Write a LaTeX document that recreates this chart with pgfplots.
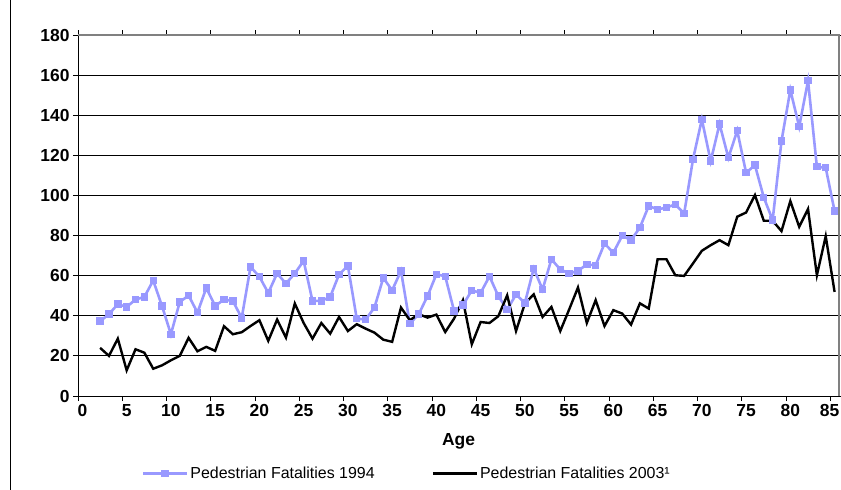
\documentclass[border=0pt]{standalone}
\usepackage{pgfplots}
\pgfplotsset{compat=1.18}
\usepackage{fontspec}
\setmainfont{Liberation Sans}
\definecolor{blu}{RGB}{153,153,255}
\begin{document}
\begin{tikzpicture}
\begin{axis}[
  at={(78bp,-396bp)}, anchor=south west,
  width=761bp, height=361bp, scale only axis,
  xmin=-0.5, xmax=85.5, ymin=0, ymax=180,
  xtick={-0.5,4.5,...,84.5},
  xticklabels={0,5,10,15,20,25,30,35,40,45,50,55,60,65,70,75,80,\hspace*{-10bp}85},
  xticklabel style={xshift=4.42bp},
  ytick={0,20,...,180},
  ymajorgrids,
  major grid style={black, line width=0.8bp},
  tick align=outside, major tick length=5bp,
  tick style={black, line width=0.8bp},
  axis line style={black, line width=1bp},
  tick label style={font=\bfseries\fontsize{17.5}{20}\selectfont},
  /pgf/number format/assume math mode=true,
  xlabel={Age},
  xlabel style={font=\bfseries\fontsize{17.5}{20}\selectfont, at={(axis description cs:0.5,-0.1247)}, anchor=center},
  clip=false,
  legend columns=2,
  legend style={at={(axis description cs:0.432,-0.215)}, anchor=center, draw=none, fill=none,
    font=\fontsize{16}{19}\selectfont, /tikz/every even column/.append style={column sep=55bp}},
  legend cell align=left,
  legend image code/.code={\draw[mark repeat=2,mark phase=2,#1] plot coordinates {(0bp,0bp) (22bp,0bp) (44bp,0bp)};},
]
\addplot[blu, line width=2.6bp, mark=square*, mark size=2.4bp, mark options={solid}] coordinates {
(2,37.3)(3,40.8)(4,45.8)(5,44.4)(6,48.1)(7,49.4)(8,57.6)(9,44.8)(10,30.8)(11,46.9)
(12,50.1)(13,41.6)(14,53.9)(15,44.9)(16,48.1)(17,47.4)(18,38.9)(19,64.4)(20,59.5)(21,51.4)
(22,61.1)(23,56.1)(24,61.1)(25,67.4)(26,47.4)(27,47.4)(28,49.4)(29,60.6)(30,64.9)(31,38.6)
(32,38.1)(33,44.1)(34,58.9)(35,52.7)(36,62.4)(37,36.1)(38,40.8)(39,49.8)(40,60.7)(41,59.7)
(42,42.4)(43,45.3)(44,52.7)(45,51.4)(46,59.7)(47,49.8)(48,43.1)(49,50.6)(50,46.4)(51,63.6)
(52,53.1)(53,68.2)(54,63.1)(55,61.1)(56,62.4)(57,65.6)(58,65.2)(59,76.0)(60,71.5)(61,79.9)
(62,77.7)(63,84.0)(64,94.8)(65,93.0)(66,94.0)(67,95.5)(68,91.0)(69,118.0)(70,137.9)(71,117.1)
(72,135.6)(73,118.8)(74,132.3)(75,111.3)(76,115.1)(77,99.0)(78,87.7)(79,127.1)(80,152.6)(81,134.3)
(82,157.2)(83,114.3)(84,113.8)(85,92.2)
};
\addlegendentry{Pedestrian Fatalities 1994}
\addplot[black, line width=2.4bp, no markers] coordinates {
(2,24.0)(3,20.0)(4,28.6)(5,12.8)(6,23.3)(7,21.6)(8,13.6)(9,15.3)(10,17.8)(11,20.0)
(12,29.0)(13,22.3)(14,24.5)(15,22.5)(16,34.8)(17,30.8)(18,31.8)(19,34.9)(20,37.8)(21,27.5)
(22,38.1)(23,29.1)(24,46.1)(25,36.4)(26,28.6)(27,36.4)(28,31.1)(29,39.4)(30,32.4)(31,35.8)
(32,33.6)(33,31.6)(34,28.1)(35,27.0)(36,44.1)(37,37.8)(38,40.8)(39,39.1)(40,40.6)(41,31.9)
(42,38.6)(43,47.8)(44,25.8)(45,36.9)(46,36.4)(47,39.8)(48,50.2)(49,32.4)(50,46.1)(51,50.7)
(52,39.4)(53,44.4)(54,32.4)(55,43.1)(56,54.1)(57,36.4)(58,47.8)(59,34.9)(60,42.8)(61,41.1)
(62,35.6)(63,46.2)(64,43.6)(65,68.2)(66,68.2)(67,60.2)(68,59.9)(69,66.1)(70,72.4)(71,75.2)
(72,77.7)(73,75.2)(74,89.4)(75,91.5)(76,100.2)(77,87.4)(78,87.4)(79,82.2)(80,97.2)(81,84.4)
(82,93.2)(83,60.2)(84,79.7)(85,51.9)
};
\addlegendentry{Pedestrian Fatalities 2003¹}
\draw[gray, line width=1.2bp] (rel axis cs:0,1) -- (rel axis cs:1,1) -- (rel axis cs:1,0);
\end{axis}
\draw[black, line width=1bp] (10bp,0bp) -- (10bp,-490bp);
\pgfresetboundingbox
\useasboundingbox (0bp,0bp) rectangle (841bp,-490bp);
\end{tikzpicture}
\end{document}
